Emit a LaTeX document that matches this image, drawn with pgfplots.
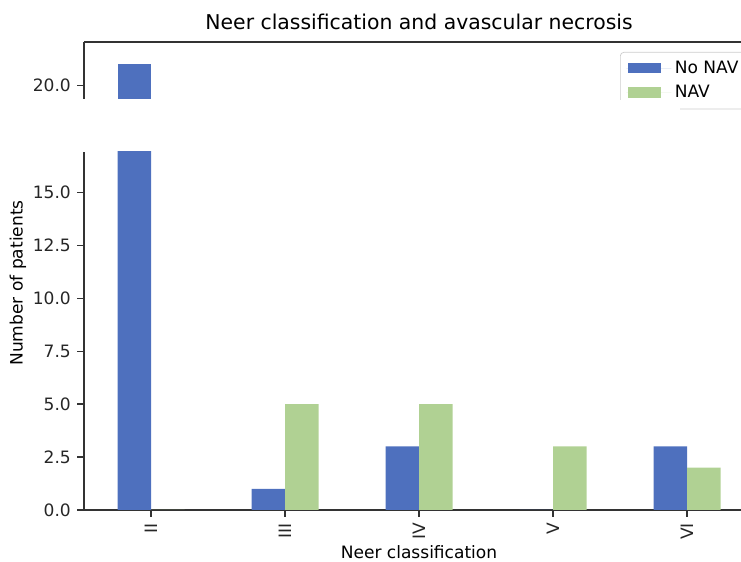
\documentclass[border=0pt]{standalone}
\usepackage{pgfplots}
\pgfplotsset{compat=1.18}
\usepackage{pgfplotstable}
\usepackage{fontspec}
\setmainfont{DejaVu Sans}

\definecolor{nonav}{HTML}{4E70BE}
\definecolor{nav}{HTML}{B0D193}
\definecolor{spine}{HTML}{333333}

% Neer class (0=II ... 4=VI), patients without / with avascular necrosis
\pgfplotstableread{
pos nonav nav
0   21    0
1   1     5
2   3     5
3   0     3
4   3     2
}\neer

\pgfplotsset{
  brk/.style={
    scale only axis, width=13.4cm,
    xmin=-0.5, xmax=4.5,
    axis y line*=left,
    axis line style={spine, line width=0.7pt, -},
    tick align=outside, major tick length=0.14cm,
    tick style={spine, line width=0.7pt},
    ticklabel style={font=\fontsize{9.7}{11}\selectfont, text=black!85},
    /pgf/number format/.cd, fixed, fixed zerofill, precision=1, assume math mode=true,
  },
  barA/.style={ybar, bar width=0.25, bar shift=-0.125, fill=nonav, draw=none},
  barB/.style={ybar, bar width=0.25, bar shift=0.125, fill=nav, draw=none},
}

\begin{document}
\begin{tikzpicture}
\useasboundingbox (0,0) rectangle (14.82cm,11.24cm);
\clip (0,0) rectangle (14.82cm,11.24cm);

% lower part of the broken axis
\begin{axis}[brk,
  at={(1.68cm,1.04cm)}, anchor=south west, height=7.16cm,
  axis x line*=bottom,
  ymin=0, ymax=16.9, ytick={0,2.5,...,15},
  xtick={0,1,2,3,4}, xticklabels={II,III,IV,V,VI},
  xticklabel style={rotate=90, anchor=east},
]
\addplot[barA] table[x=pos, y=nonav] {\neer};
\addplot[barB] table[x=pos, y=nav] {\neer};
\end{axis}

% upper part of the broken axis (only the class II bar reaches it)
\begin{axis}[brk,
  at={(1.68cm,9.26cm)}, anchor=south west, height=1.14cm,
  axis x line*=top, xtick=\empty,
  ymin=19.36, ymax=22.06, ytick={20},
  legend style={at={(0.8,0.825)}, anchor=north west,
    draw=black!20, rounded corners=2pt, fill=white,
    font=\fontsize{9.7}{11}\selectfont, row sep=0.05cm,
    inner xsep=0.12cm, inner ysep=0.1cm},
  legend cell align=left,
  legend image code/.code={
    \path (0cm,0cm) -- (0.9cm,0cm);
    \fill[#1, sharp corners] (0.04cm,-0.1cm) rectangle (0.70cm,0.11cm);},
]
\addplot[barA, restrict y to domain=19:30] table[x=pos, y=nonav] {\neer};
\addlegendentry{No NAV}
\addlegendimage{barB}
\addlegendentry{NAV}
\end{axis}

% the lower edge of the legend is hidden here in the reference
\fill[white] (12.2cm,9.0cm) rectangle (13.6cm,9.24cm);

\node[font=\fontsize{11.6}{13}\selectfont] at (8.38cm,10.8cm) {Neer classification and avascular necrosis};
\node[font=\fontsize{9.7}{11}\selectfont] at (8.38cm,0.2cm) {Neer classification};
\node[font=\fontsize{9.7}{11}\selectfont, rotate=90] at (0.36cm,5.58cm) {Number of patients};
\end{tikzpicture}
\end{document}
